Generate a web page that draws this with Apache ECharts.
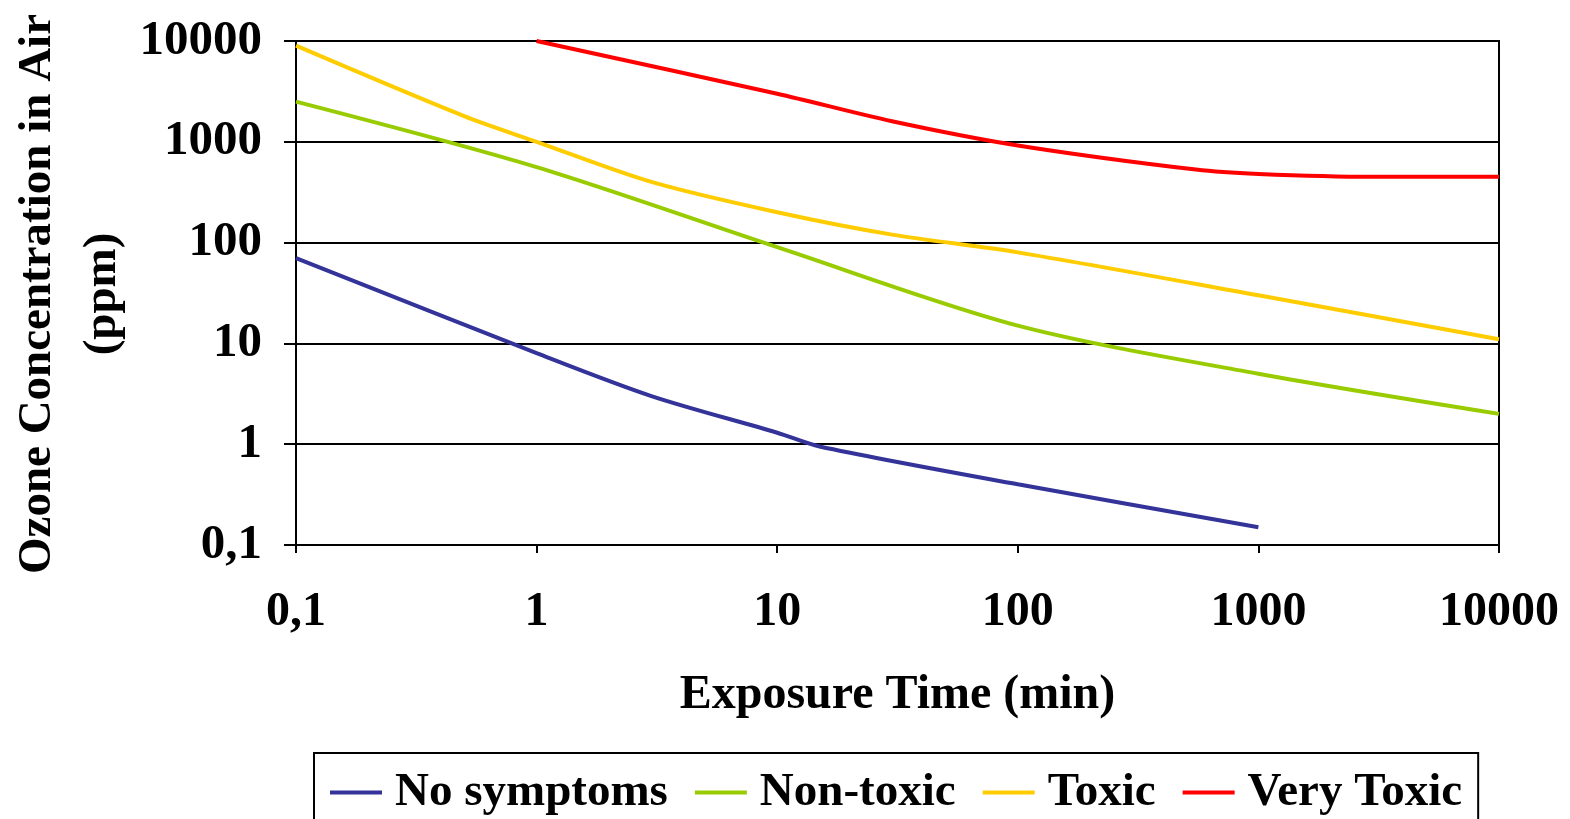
<!DOCTYPE html>
<html>
<head>
<meta charset="utf-8">
<script src="https://cdn.jsdelivr.net/npm/echarts@6/dist/echarts.min.js"></script>
<style>
html,body{margin:0;padding:0;background:#fff;}
#chart{width:1570px;height:819px;}
</style>
</head>
<body>
<div id="chart"></div>
<script>
// Data (exposure time in min, concentration in ppm)
const seriesNames = ['No symptoms', 'Non-toxic', 'Toxic', 'Very Toxic'];
const seriesColors = ['#333399', '#99CC00', '#FFCC00', '#FF0000'];

const noSymptomsX = [0.1, 1, 3, 10, 15, 100, 1000];
const noSymptomsY = [70, 8, 3, 1.3, 0.95, 0.4, 0.15];

const nonToxicX = [0.1, 1, 10, 100, 1000, 10000];
const nonToxicY = [2500, 560, 90, 15, 5, 2];

const toxicX = [0.1, 0.5, 1, 3, 10, 30, 100, 1000, 10000];
const toxicY = [9000, 1800, 1000, 400, 200, 120, 80, 30, 11];

const veryToxicX = [1, 10, 30, 100, 550, 1000, 3000, 10000];
const veryToxicY = [10000, 3000, 1600, 920, 530, 480, 450, 450];

const xTickLabels = ['0,1', '1', '10', '100', '1000', '10000'];
const yTickLabels = ['0,1', '1', '10', '100', '1000', '10000'];

const xTitle = 'Exposure Time (min)';
const yTitle = 'Ozone Concentration in Air\n(ppm)';

function pairs(xs, ys) { return xs.map((x, i) => [x, ys[i]]); }
const allData = [
  pairs(noSymptomsX, noSymptomsY),
  pairs(nonToxicX, nonToxicY),
  pairs(toxicX, toxicY),
  pairs(veryToxicX, veryToxicY)
];

function fmt(labels) {
  return function (v) {
    const e = Math.round(Math.log10(v));
    const idx = e + 1;
    return labels[idx] !== undefined ? labels[idx] : '';
  };
}

const FONT = '"Liberation Serif", "Times New Roman", serif';
const chart = echarts.init(document.getElementById('chart'));
chart.setOption({
  animation: false,
  backgroundColor: '#fff',
  textStyle: { fontFamily: FONT },
  grid: {
    left: 296, right: 71, top: 41, bottom: 274,
    show: true, borderColor: '#000', borderWidth: 2, containLabel: false,
    outerBoundsMode: 'none'
  },
  graphic: [{
    type: 'text',
    x: 70, y: 294,
    rotation: Math.PI / 2,
    style: {
      text: yTitle,
      fontFamily: FONT, fontWeight: 'bold', fontSize: 47, lineHeight: 65,
      fill: '#000', align: 'center', verticalAlign: 'middle'
    }
  }],
  legend: {
    data: seriesNames.map((n, i) => ({ name: n, icon: 'rect', itemStyle: { color: seriesColors[i] } })),
    left: 314, top: 753,
    itemWidth: 52, itemHeight: 4, itemGap: 27,
    padding: [16, 16, 30, 16],
    borderColor: '#000', borderWidth: 2,
    textStyle: { fontFamily: FONT, fontWeight: 'bold', fontSize: 47, color: '#000', padding: [0, 0, 0, 8] }
  },
  xAxis: {
    type: 'log', logBase: 10, min: 0.1, max: 10000,
    name: xTitle, nameLocation: 'middle', nameGap: 127,
    nameTextStyle: { fontFamily: FONT, fontWeight: 'bold', fontSize: 48, color: '#000' },
    axisLine: { show: true, lineStyle: { color: '#000', width: 2 } },
    axisTick: { show: true, length: 8, lineStyle: { color: '#000', width: 2 } },
    minorTick: { show: false },
    splitLine: { show: false },
    axisLabel: { formatter: fmt(xTickLabels), margin: 44, fontFamily: FONT, fontWeight: 'bold', fontSize: 48, color: '#000' }
  },
  yAxis: {
    type: 'log', logBase: 10, min: 0.1, max: 10000,
    axisLine: { show: true, lineStyle: { color: '#000', width: 2 } },
    axisTick: { show: true, length: 12, lineStyle: { color: '#000', width: 2 } },
    splitLine: { show: true, lineStyle: { color: '#000', width: 2 } },
    axisLabel: { formatter: fmt(yTickLabels), margin: 34, fontFamily: FONT, fontWeight: 'bold', fontSize: 49, color: '#000' }
  },
  series: allData.map((d, i) => ({
    name: seriesNames[i],
    type: 'line',
    data: d,
    smooth: 0.3,
    symbol: 'none',
    lineStyle: { color: seriesColors[i], width: 4 },
    itemStyle: { color: seriesColors[i] }
  }))
});
</script>
</body>
</html>
